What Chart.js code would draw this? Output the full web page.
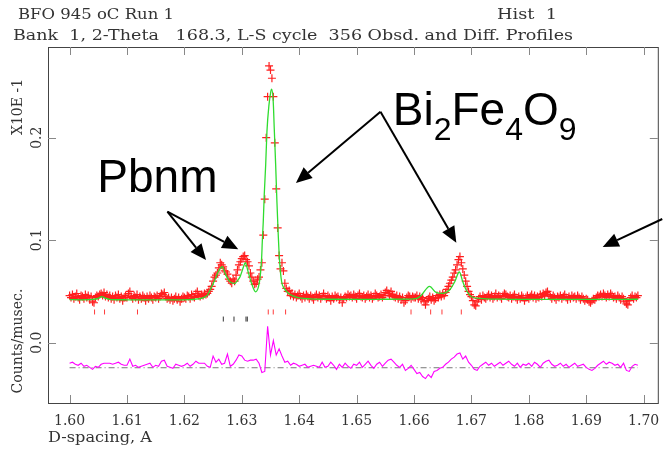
<!DOCTYPE html>
<html>
<head>
<meta charset="utf-8">
<script src="https://cdn.jsdelivr.net/npm/chart.js@4.4.1/dist/chart.umd.min.js"></script>
<style>
  body { margin: 0; background: #fff; }
  canvas { display: block; }
</style>
</head>
<body>
<canvas id="profile" width="663" height="453"></canvas>
<script>
// axis ticks
const xTicks = [1.60, 1.61, 1.62, 1.63, 1.64, 1.65, 1.66, 1.67, 1.68, 1.69, 1.70];
const yTicks = [0.0, 0.1, 0.2];

// observed counts, one every 0.00025 A from 1.600
const obsStart = 1.600;
const obsStep = 0.00025;
const obsCounts = [
  0.046, 0.044, 0.047, 0.043, 0.045, 0.048, 0.044, 0.042, 0.046, 0.045,
  0.043, 0.047, 0.044, 0.046, 0.042, 0.045, 0.040, 0.039, 0.044, 0.046,
  0.045, 0.047, 0.048, 0.046, 0.049, 0.045, 0.047, 0.044, 0.046, 0.043,
  0.045, 0.042, 0.046, 0.044, 0.047, 0.043, 0.045, 0.041, 0.044, 0.046,
  0.044, 0.048, 0.050, 0.045, 0.043, 0.046, 0.044, 0.047, 0.042, 0.045,
  0.043, 0.046, 0.044, 0.041, 0.045, 0.043, 0.046, 0.044, 0.042, 0.045,
  0.044, 0.046, 0.043, 0.045, 0.048, 0.047, 0.049, 0.045, 0.043, 0.044,
  0.042, 0.044, 0.041, 0.043, 0.045, 0.042, 0.044, 0.040, 0.043, 0.045,
  0.044, 0.043, 0.046, 0.045, 0.043, 0.047, 0.045, 0.044, 0.048, 0.050,
  0.046, 0.045, 0.047, 0.046, 0.048, 0.047, 0.048, 0.050, 0.052, 0.055,
  0.060, 0.064, 0.066, 0.068, 0.073, 0.078, 0.076, 0.074, 0.070, 0.069,
  0.067, 0.062, 0.060, 0.058, 0.062, 0.060, 0.066, 0.071, 0.076, 0.079,
  0.082, 0.084, 0.085, 0.081, 0.079, 0.075, 0.068, 0.064, 0.060, 0.057,
  0.058, 0.062, 0.064, 0.071, 0.078, 0.105, 0.140, 0.200, 0.240, 0.270,
  0.266, 0.258, 0.240, 0.195, 0.150, 0.112, 0.085, 0.072, 0.078, 0.070,
  0.058, 0.053, 0.050, 0.051, 0.046, 0.048, 0.045, 0.047, 0.044, 0.046,
  0.048, 0.045, 0.043, 0.046, 0.044, 0.047, 0.045, 0.043, 0.046, 0.044,
  0.042, 0.045, 0.047, 0.044, 0.046, 0.043, 0.045, 0.048, 0.045, 0.043,
  0.046, 0.044, 0.041, 0.045, 0.043, 0.046, 0.044, 0.045, 0.042, 0.044,
  0.039, 0.043, 0.045, 0.044, 0.047, 0.045, 0.046, 0.044, 0.047, 0.045,
  0.043, 0.046, 0.048, 0.045, 0.044, 0.046, 0.043, 0.045, 0.047, 0.044,
  0.046, 0.043, 0.045, 0.048, 0.046, 0.044, 0.045, 0.047, 0.044, 0.046,
  0.049, 0.051, 0.048, 0.046, 0.050, 0.047, 0.045, 0.044, 0.046, 0.043,
  0.045, 0.042, 0.044, 0.039, 0.041, 0.044, 0.046, 0.045, 0.043, 0.045,
  0.044, 0.044, 0.046, 0.043, 0.045, 0.042, 0.044, 0.040, 0.037, 0.041,
  0.043, 0.045, 0.042, 0.044, 0.041, 0.043, 0.046, 0.044, 0.047, 0.045,
  0.048, 0.046, 0.049, 0.052, 0.055, 0.058, 0.061, 0.064, 0.068, 0.071,
  0.076, 0.081, 0.084, 0.078, 0.072, 0.066, 0.060, 0.055, 0.050, 0.047,
  0.045, 0.041, 0.037, 0.036, 0.040, 0.043, 0.045, 0.042, 0.046, 0.044,
  0.043, 0.045, 0.047, 0.044, 0.046, 0.043, 0.045, 0.048, 0.044, 0.046,
  0.045, 0.043, 0.046, 0.048, 0.047, 0.045, 0.044, 0.046, 0.043, 0.045,
  0.047, 0.044, 0.042, 0.045, 0.043, 0.046, 0.044, 0.041, 0.044, 0.046,
  0.043, 0.045, 0.047, 0.044, 0.046, 0.043, 0.045, 0.044, 0.047, 0.045,
  0.048, 0.046, 0.049, 0.050, 0.047, 0.045, 0.043, 0.046, 0.044, 0.042,
  0.045, 0.044, 0.046, 0.043, 0.045, 0.047, 0.044, 0.042, 0.045, 0.043,
  0.046, 0.044, 0.045, 0.043, 0.046, 0.044, 0.042, 0.045, 0.043, 0.041,
  0.043, 0.042, 0.040, 0.039, 0.041, 0.043, 0.042, 0.044, 0.046, 0.045,
  0.047, 0.045, 0.048, 0.046, 0.044, 0.047, 0.045, 0.048, 0.046, 0.044,
  0.045, 0.043, 0.046, 0.044, 0.042, 0.045, 0.043, 0.040, 0.038, 0.037,
  0.041, 0.044, 0.046, 0.043, 0.045, 0.044, 0.046
];

// calculated profile (green), read at these d-spacings
const calcD = [
  1.6000, 1.6020, 1.6040, 1.6050, 1.6056, 1.6062, 1.6072, 1.6100, 1.6140, 1.6180,
  1.6210, 1.6225, 1.6233, 1.6240, 1.6245, 1.6253, 1.6259, 1.6266, 1.6271, 1.6277,
  1.6282, 1.6288, 1.6293, 1.6297, 1.6303, 1.6306, 1.6311, 1.6317, 1.6324, 1.6329,
  1.6332, 1.63346, 1.63357, 1.63374, 1.63391, 1.63416, 1.63438, 1.63473, 1.63508, 1.6352,
  1.63548, 1.63565, 1.6359, 1.63612, 1.63635, 1.63659, 1.63694, 1.63739, 1.63809, 1.6390,
  1.6400, 1.6420, 1.6450, 1.6500, 1.6550, 1.6590, 1.6605, 1.6613, 1.6627, 1.6639,
  1.6650, 1.6662, 1.6671, 1.6679, 1.6685, 1.6691, 1.6700, 1.6714, 1.6750, 1.6800,
  1.6900, 1.6990
];
const calcCounts = [
  0.0420, 0.0419, 0.0422, 0.0432, 0.0450, 0.0436, 0.0421, 0.0419, 0.0418, 0.0418,
  0.0421, 0.0427, 0.0440, 0.0465, 0.0517, 0.0611, 0.0692, 0.0741, 0.0676, 0.0611,
  0.0585, 0.0579, 0.0610, 0.0644, 0.0741, 0.0780, 0.0692, 0.0579, 0.0497, 0.0545,
  0.0644, 0.0830, 0.0985, 0.1180, 0.1441, 0.1734, 0.2059, 0.2318, 0.2456, 0.2475,
  0.2349, 0.2095, 0.1734, 0.1375, 0.1051, 0.0790, 0.0595, 0.0530, 0.0483, 0.0455,
  0.0438, 0.0428, 0.0424, 0.0423, 0.0424, 0.0426, 0.0432, 0.0465, 0.0550, 0.0488,
  0.0482, 0.0514, 0.0595, 0.0690, 0.0595, 0.0514, 0.0449, 0.0433, 0.0425, 0.0423,
  0.0423, 0.0424
];

// difference curve, one every 0.0005 A from 1.600, drawn around diffZero
const diffStart = 1.600;
const diffStep = 0.0005;
const diffZero = -0.0244;
const diffCounts = [
  -0.020, -0.019, -0.021, -0.022, -0.020, -0.023, -0.022, -0.024, -0.026, -0.023,
  -0.024, -0.021, -0.020, -0.020, -0.020, -0.021, -0.020, -0.019, -0.021, -0.022,
  -0.022, -0.016, -0.023, -0.022, -0.024, -0.023, -0.022, -0.021, -0.020, -0.024,
  -0.022, -0.023, -0.018, -0.017, -0.023, -0.024, -0.025, -0.021, -0.022, -0.023,
  -0.022, -0.020, -0.023, -0.021, -0.018, -0.020, -0.020, -0.020, -0.023, -0.024,
  -0.013, -0.019, -0.016, -0.021, -0.020, -0.011, -0.023, -0.021, -0.017, -0.012,
  -0.013, -0.017, -0.018, -0.017, -0.017, -0.016, -0.020, -0.029, -0.028, 0.016,
  -0.012, 0.002, -0.012, -0.006, -0.013, -0.019, -0.018, -0.022, -0.020, -0.021,
  -0.023, -0.022, -0.021, -0.024, -0.023, -0.022, -0.023, -0.024, -0.019, -0.024,
  -0.023, -0.019, -0.022, -0.026, -0.021, -0.024, -0.020, -0.023, -0.025, -0.021,
  -0.022, -0.019, -0.024, -0.021, -0.018, -0.022, -0.025, -0.021, -0.019, -0.023,
  -0.020, -0.017, -0.016, -0.019, -0.022, -0.024, -0.021, -0.027, -0.025, -0.022,
  -0.026, -0.030, -0.029, -0.033, -0.035, -0.031, -0.034, -0.028, -0.027, -0.025,
  -0.024, -0.021, -0.019, -0.016, -0.014, -0.011, -0.010, -0.016, -0.013, -0.019,
  -0.022, -0.026, -0.027, -0.023, -0.021, -0.019, -0.022, -0.020, -0.023, -0.021,
  -0.019, -0.022, -0.020, -0.018, -0.021, -0.023, -0.020, -0.024, -0.021, -0.022,
  -0.020, -0.023, -0.019, -0.021, -0.024, -0.020, -0.018, -0.017, -0.021, -0.023,
  -0.022, -0.020, -0.023, -0.021, -0.024, -0.022, -0.020, -0.023, -0.022, -0.021,
  -0.024, -0.026, -0.027, -0.025, -0.022, -0.020, -0.018, -0.021, -0.019, -0.020,
  -0.022, -0.021, -0.024, -0.020, -0.027, -0.028, -0.023, -0.021, -0.022
];

// reflection positions
const bfoTicks = [1.60435, 1.60609, 1.61183, 1.63461, 1.63548, 1.63763, 1.65948, 1.66290, 1.66487, 1.66824];
const bfoTickLevel = 0.0300;
const pbnmTicks = [1.62678, 1.62864, 1.63073, 1.63096];
const pbnmTickLevel = 0.0231;

// annotations, in data units: [fromD, fromY, toD, toY]
const arrows = [
  [1.61704, 0.1278, 1.62377, 0.0807],
  [1.61704, 0.1278, 1.62939, 0.0911],
  [1.65416, 0.2254, 1.63943, 0.1558],
  [1.65416, 0.2254, 1.66737, 0.0976],
  [1.70325, 0.1207, 1.69287, 0.0934]
];
const pbnmLabelAt = [1.60483, 0.1471];
const bfoLabelAt = [1.65630, 0.2124];

const obsPts = obsCounts.map((v, i) => ({ x: +(obsStart + i * obsStep).toFixed(5), y: v }));
const diffPts = diffCounts.map((v, i) => ({ x: +(diffStart + i * diffStep).toFixed(4), y: v }));
const calcPts = calcD.map((d, i) => ({ x: d, y: calcCounts[i] }));
const lastD = diffPts[diffPts.length - 1].x;

function drawArrow(ctx, x1, y1, x2, y2) {
  const a = Math.atan2(y2 - y1, x2 - x1);
  const len = 16, half = 7;
  const bx = x2 - len * Math.cos(a), by = y2 - len * Math.sin(a);
  ctx.beginPath();
  ctx.moveTo(x1, y1);
  ctx.lineTo(bx, by);
  ctx.stroke();
  ctx.beginPath();
  ctx.moveTo(x2, y2);
  ctx.lineTo(bx + half * Math.sin(a), by - half * Math.cos(a));
  ctx.lineTo(bx - half * Math.sin(a), by + half * Math.cos(a));
  ctx.closePath();
  ctx.fill();
}

// header text stretched to the width it has in the plot
function fitText(ctx, text, x, y, width) {
  const w = ctx.measureText(text).width;
  ctx.save();
  ctx.translate(x, y);
  ctx.scale(width / w, 1);
  ctx.fillText(text, 0, 0);
  ctx.restore();
}

const overlay = {
  id: 'overlay',
  afterDraw(chart) {
    const { ctx, chartArea: a } = chart;
    const xs = chart.scales.x, ys = chart.scales.y;
    ctx.save();

    // frame and inside ticks
    ctx.strokeStyle = '#444';
    ctx.lineWidth = 1;
    ctx.strokeRect(a.left + 0.5, a.top + 0.5, a.right - a.left, a.bottom - a.top);
    ctx.strokeStyle = '#888';
    ctx.beginPath();
    xTicks.forEach(v => {
      const px = Math.round(xs.getPixelForValue(v)) + 0.5;
      ctx.moveTo(px, a.bottom); ctx.lineTo(px, a.bottom - 8);
      ctx.moveTo(px, a.top); ctx.lineTo(px, a.top + 8);
    });
    yTicks.forEach(v => {
      const py = Math.round(ys.getPixelForValue(v)) + 0.5;
      ctx.moveTo(a.left, py); ctx.lineTo(a.left + 8, py);
      ctx.moveTo(a.right, py); ctx.lineTo(a.right - 8, py);
    });
    ctx.stroke();

    // header
    ctx.fillStyle = '#333';
    ctx.font = '15px "DejaVu Serif"';
    ctx.textBaseline = 'alphabetic';
    fitText(ctx, 'BFO 945 oC Run 1', 18, 19, 156);
    fitText(ctx, 'Hist  1', 497, 19, 60);
    fitText(ctx, 'Bank  1, 2-Theta   168.3, L-S cycle  356 Obsd. and Diff. Profiles', 13, 40, 560);
    ctx.font = '14px "DejaVu Serif"';
    fitText(ctx, 'D-spacing, A', 48, 442, 104);

    // rotated y labels
    const vertical = (text, x, y) => {
      ctx.save();
      ctx.translate(x, y);
      ctx.rotate(-Math.PI / 2);
      ctx.textAlign = 'center';
      ctx.textBaseline = 'middle';
      ctx.fillText(text, 0, 0);
      ctx.restore();
    };
    yTicks.forEach(v => vertical(v.toFixed(1), 37, ys.getPixelForValue(v)));
    vertical('X10E -1', 18, 107);
    vertical('Counts/musec.', 18, 341);

    // phase labels and arrows
    ctx.fillStyle = '#000';
    ctx.strokeStyle = '#000';
    ctx.lineWidth = 2;
    ctx.font = '46px "Liberation Sans"';
    ctx.fillText('Pbnm', xs.getPixelForValue(pbnmLabelAt[0]), ys.getPixelForValue(pbnmLabelAt[1]));
    let tx = xs.getPixelForValue(bfoLabelAt[0]);
    const ty = ys.getPixelForValue(bfoLabelAt[1]);
    [['Bi', 0], ['2', 1], ['Fe', 0], ['4', 1], ['O', 0], ['9', 1]].forEach(([t, sub]) => {
      ctx.font = sub ? '32px "Liberation Sans"' : '46px "Liberation Sans"';
      ctx.fillText(t, tx, sub ? ty + 15 : ty);
      tx += ctx.measureText(t).width;
    });
    arrows.forEach(([d1, v1, d2, v2]) => drawArrow(ctx,
      xs.getPixelForValue(d1), ys.getPixelForValue(v1),
      xs.getPixelForValue(d2), ys.getPixelForValue(v2)));
    ctx.restore();
  }
};

new Chart(document.getElementById('profile'), {
  type: 'scatter',
  data: {
    datasets: [
      {
        label: 'Calc',
        data: calcPts,
        showLine: true,
        borderColor: '#2fdc2f',
        borderWidth: 1.3,
        pointRadius: 0,
        cubicInterpolationMode: 'monotone',
        order: 0
      },
      {
        label: 'Bi2Fe4O9 reflections',
        data: bfoTicks.map(d => ({ x: d, y: bfoTickLevel })),
        pointStyle: 'line',
        pointRotation: 90,
        pointRadius: 2.5,
        borderColor: '#ff3b3b',
        borderWidth: 1,
        order: 1
      },
      {
        label: 'Pbnm reflections',
        data: pbnmTicks.map(d => ({ x: d, y: pbnmTickLevel })),
        pointStyle: 'line',
        pointRotation: 90,
        pointRadius: 2.5,
        borderColor: '#333',
        borderWidth: 1,
        order: 1
      },
      {
        label: 'Obs',
        data: obsPts,
        pointStyle: 'cross',
        pointRadius: 4,
        borderColor: '#ff1f1f',
        backgroundColor: '#ff1f1f',
        borderWidth: 1.2,
        order: 2
      },
      {
        label: 'Diff',
        data: diffPts,
        showLine: true,
        borderColor: '#ff00ff',
        borderWidth: 1.1,
        pointRadius: 0,
        order: 3
      },
      {
        label: 'Zero',
        data: [{ x: diffStart, y: diffZero }, { x: lastD, y: diffZero }],
        showLine: true,
        borderColor: '#777',
        borderWidth: 1,
        borderDash: [6, 3, 1, 3],
        pointRadius: 0,
        order: 4
      }
    ]
  },
  options: {
    responsive: false,
    animation: false,
    devicePixelRatio: 1,
    layout: { padding: { top: 47, right: 4, left: 0, bottom: 0 } },
    plugins: {
      legend: { display: false },
      tooltip: { enabled: false }
    },
    scales: {
      x: {
        type: 'linear',
        min: 1.59624,
        max: 1.70247,
        afterBuildTicks: s => { s.ticks = xTicks.map(v => ({ value: v })); },
        afterFit: s => { s.height = 50; },
        grid: { display: false },
        border: { display: false },
        ticks: {
          font: { family: 'DejaVu Serif', size: 14 },
          color: '#333',
          padding: 2,
          maxRotation: 0,
          autoSkip: false,
          callback: v => Number(v).toFixed(2)
        }
      },
      y: {
        min: -0.0588,
        max: 0.2885,
        afterBuildTicks: s => { s.ticks = yTicks.map(v => ({ value: v })); },
        afterFit: s => { s.width = 48; },
        grid: { display: false },
        border: { display: false },
        ticks: { display: false }
      }
    }
  },
  plugins: [overlay]
});
</script>
</body>
</html>
